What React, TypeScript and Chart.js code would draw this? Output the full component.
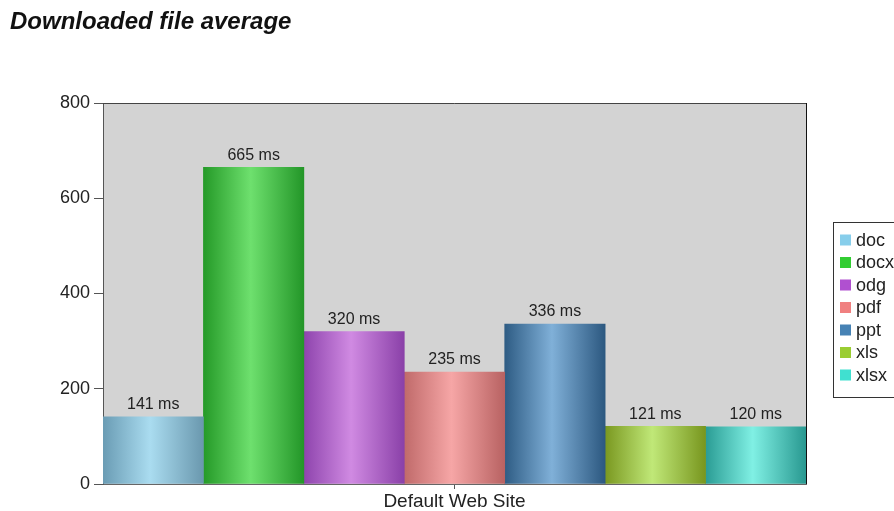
import React, { useEffect, useRef } from "react";
import { Chart, registerables } from "chart.js";

Chart.register(...registerables);

const titleText = "Downloaded file average";
const categories = ["Default Web Site"];
const seriesNames = ["doc", "docx", "odg", "pdf", "ppt", "xls", "xlsx"];
const seriesValues = [141, 665, 320, 235, 336, 121, 120];
const yMin = 0;
const yMax = 800;
const yStep = 200;
const valueSuffix = " ms";

const legendColors = ["#87ceeb", "#32cd32", "#b050d0", "#f08080", "#4682b4", "#9acd32", "#40e0d0"];
const gradEdgeLeft = ["#6a9cb4", "#259a28", "#8e44ad", "#c06a6a", "#2e5c84", "#7a9820", "#2a9c94"];
const gradCenter = ["#aadcf0", "#6ee06e", "#d08ae2", "#f6a6a6", "#80b0d8", "#c0e878", "#80f0e4"];
const gradEdgeRight = ["#6a98ae", "#239628", "#8a40a8", "#b86262", "#2c5880", "#78961e", "#289890"];

const FONT = "'Liberation Sans', Arial, sans-serif";

export default function App() {
  const ref = useRef<HTMLCanvasElement | null>(null);

  useEffect(() => {
    const canvas = ref.current;
    if (!canvas) return;

    const bgPlugin = {
      id: "bgPlugin",
      beforeDraw(chart: any) {
        const { ctx, chartArea: a } = chart;
        ctx.save();
        ctx.fillStyle = "#ffffff";
        ctx.fillRect(0, 0, chart.width, chart.height);
        ctx.fillStyle = "#d3d3d3";
        ctx.fillRect(a.left, a.top, a.right - a.left, a.bottom - a.top);
        ctx.fillStyle = "#111111";
        ctx.font = `italic bold 24px ${FONT}`;
        ctx.textBaseline = "middle";
        ctx.textAlign = "left";
        ctx.fillText(titleText, 10, 22);
        ctx.restore();
      },
      afterDatasetsDraw(chart: any) {
        const { ctx, chartArea: a } = chart;
        ctx.save();
        // data labels
        ctx.font = `16px ${FONT}`;
        ctx.fillStyle = "#222222";
        ctx.textAlign = "center";
        ctx.textBaseline = "bottom";
        chart.data.datasets.forEach((ds: any, i: number) => {
          const meta = chart.getDatasetMeta(i);
          meta.data.forEach((el: any, j: number) => {
            ctx.fillText(`${ds.data[j]}${valueSuffix}`, el.x, el.y - 4);
          });
        });
        // frame
        ctx.strokeStyle = "#444444";
        ctx.lineWidth = 1;
        ctx.beginPath();
        ctx.moveTo(a.left, a.top + 0.5);
        ctx.lineTo(a.right + 0.5, a.top + 0.5);
        ctx.stroke();
        ctx.strokeStyle = "#111111";
        ctx.beginPath();
        ctx.moveTo(a.right + 0.5, a.top);
        ctx.lineTo(a.right + 0.5, a.bottom);
        ctx.stroke();
        // legend
        const lx = 833;
        const ly = 222;
        const lh = 175;
        ctx.fillStyle = "#ffffff";
        ctx.fillRect(lx, ly, 100, lh);
        ctx.strokeStyle = "#333333";
        ctx.strokeRect(lx + 0.5, ly + 0.5, 100, lh);
        ctx.font = `18px ${FONT}`;
        ctx.textAlign = "left";
        ctx.textBaseline = "middle";
        chart.data.datasets.forEach((ds: any, i: number) => {
          const cy = 240 + i * 22.5;
          ctx.fillStyle = legendColors[i];
          ctx.fillRect(840, cy - 5.5, 11, 11);
          ctx.fillStyle = "#222222";
          ctx.fillText(ds.label, 856, cy + 1);
        });
        ctx.restore();
      },
    };

    const datasets = seriesNames.map((name, i) => ({
      label: name,
      data: [seriesValues[i]],
      backgroundColor: (c: any) => {
        const chart = c.chart;
        const a = chart.chartArea;
        if (!a) return legendColors[i];
        const w = (a.right - a.left) / seriesNames.length;
        const x0 = a.left + i * w;
        const g = chart.ctx.createLinearGradient(x0, 0, x0 + w, 0);
        g.addColorStop(0, gradEdgeLeft[i]);
        g.addColorStop(0.47, gradCenter[i]);
        g.addColorStop(1, gradEdgeRight[i]);
        return g;
      },
      borderWidth: 0,
      categoryPercentage: 1,
      barPercentage: 1,
    }));

    const chart = new Chart(canvas, {
      type: "bar",
      data: { labels: categories, datasets },
      plugins: [bgPlugin],
      options: {
        responsive: false,
        animation: false,
        devicePixelRatio: 1,
        layout: { padding: { top: 103, right: 88, bottom: 0, left: 0 } },
        plugins: {
          legend: { display: false },
          title: { display: false },
          tooltip: { enabled: false },
        },
        scales: {
          x: {
            afterFit: (s: any) => {
              s.height = 27;
            },
            grid: {
              display: true,
              drawOnChartArea: false,
              drawTicks: true,
              tickLength: 5,
              offset: false,
              color: "#555555",
            },
            border: { display: true, color: "#666666", width: 1 },
            ticks: {
              font: { family: FONT, size: 19 },
              color: "#222222",
              padding: 1,
            },
          },
          y: {
            min: yMin,
            max: yMax,
            afterFit: (s: any) => {
              s.width = 103;
            },
            grid: {
              display: true,
              drawOnChartArea: false,
              drawTicks: true,
              tickLength: 9,
              color: "#555555",
            },
            border: { display: true, color: "#555555", width: 1 },
            ticks: {
              stepSize: yStep,
              font: { family: FONT, size: 18 },
              color: "#222222",
              padding: 4,
            },
          },
        },
      },
    });

    return () => chart.destroy();
  }, []);

  return (
    <div
      style={{
        position: "fixed",
        left: 0,
        top: 0,
        width: 894,
        height: 511,
        overflow: "hidden",
        background: "#fff",
      }}
    >
      <canvas ref={ref} width={894} height={511} style={{ display: "block" }} />
    </div>
  );
}
